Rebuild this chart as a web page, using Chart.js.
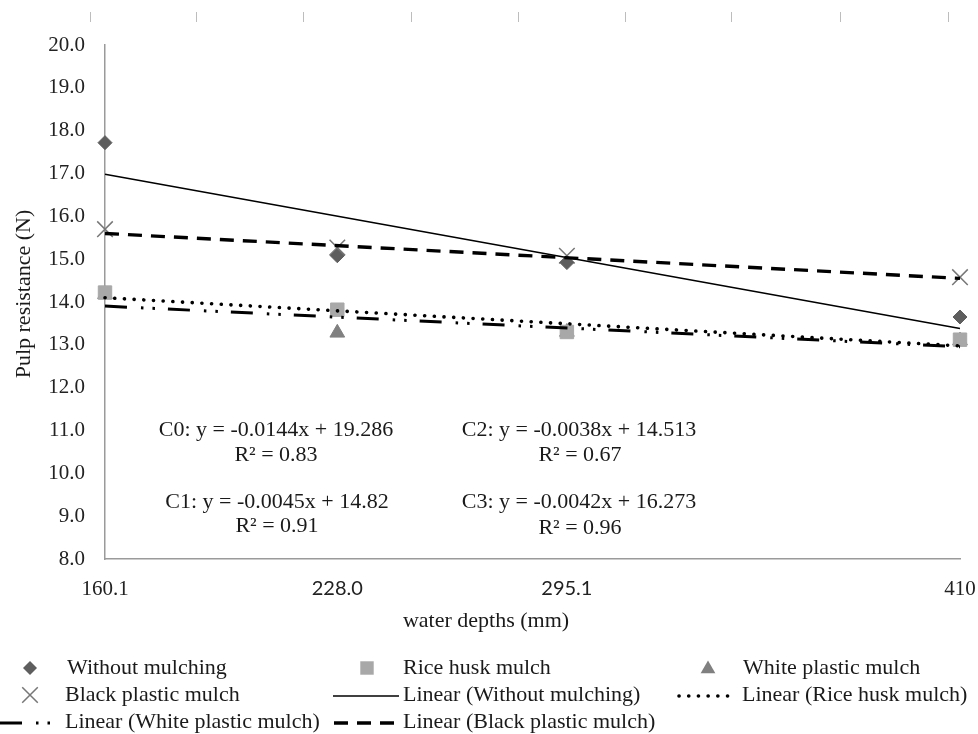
<!DOCTYPE html>
<html><head><meta charset="utf-8">
<script src="https://cdn.jsdelivr.net/npm/chart.js@4.4.0/dist/chart.umd.min.js"></script>
<style>html,body{margin:0;padding:0;background:#fff;}#wrap{width:978px;height:734px;position:relative;}</style>
</head><body><div id="wrap"><canvas id="c" width="978" height="734"></canvas></div>
<script>
const waterDepths = [160.1, 228.0, 295.1, 410];
const xTickLabels = ['160.1', '228.0', '295.1', '410'];
const withoutMulching = [17.72, 15.08, 14.92, 13.65];
const riceHusk = [14.22, 13.82, 13.3, 13.12];
const whitePlastic = [14.18, 13.28, 13.3, 13.1];
const blackPlastic = [15.7, 15.27, 15.08, 14.58];
const seriesNames = ['Without mulching', 'Rice husk mulch', 'White plastic mulch', 'Black plastic mulch'];
const trendSlopes = [-0.0144, -0.0045, -0.0038, -0.0042];
const trendIntercepts = [19.286, 14.82, 14.513, 16.273];
const equationLabels = ['C0: y = -0.0144x + 19.286', 'C1: y = -0.0045x + 14.82', 'C2: y = -0.0038x + 14.513', 'C3: y = -0.0042x + 16.273'];
const r2Labels = ['R\u00B2 = 0.83', 'R\u00B2 = 0.91', 'R\u00B2 = 0.67', 'R\u00B2 = 0.96'];
const xTitle = 'water depths (mm)';
const yTitle = 'Pulp resistance (N)';
const yMin = 8, yMax = 20, yStep = 1;

const SERIF = "'Liberation Serif', 'Times New Roman', serif";
const SANS = "Lato, 'Open Sans', sans-serif";
const TXT = '#1a1a1a';

const markerStyles = [
  {pointStyle: 'rectRot', radius: 7, bg: '#5e5e5e', bc: '#5e5e5e', bw: 1},
  {pointStyle: 'rect', radius: 9.5, bg: '#a8a8a8', bc: '#a8a8a8', bw: 1},
  {pointStyle: 'triangle', radius: 8.5, bg: '#808080', bc: '#808080', bw: 1},
  {pointStyle: 'crossRot', radius: 11, bg: '#777777', bc: '#777777', bw: 1.5}
];
const trendStyles = [
  {dash: [], width: 1.5, cap: 'butt'},
  {dash: [0.1, 9.6], width: 3.6, cap: 'round'},
  {dash: [22, 14, 2.5, 9, 2.5, 13], width: 3, cap: 'butt'},
  {dash: [14, 9], width: 3.4, cap: 'butt'}
];
const seriesValues = [withoutMulching, riceHusk, whitePlastic, blackPlastic];

const datasets = [];
seriesValues.forEach((vals, i) => {
  const m = markerStyles[i];
  datasets.push({
    label: seriesNames[i],
    data: waterDepths.map((x, j) => ({x: x, y: vals[j]})),
    showLine: false,
    clip: false,
    pointStyle: m.pointStyle,
    pointRadius: m.radius,
    pointHoverRadius: m.radius,
    pointBackgroundColor: m.bg,
    pointBorderColor: m.bc,
    pointBorderWidth: m.bw,
    order: 5
  });
});
seriesValues.forEach((vals, i) => {
  const t = trendStyles[i];
  const x0 = waterDepths[0], x1 = waterDepths[waterDepths.length - 1];
  datasets.push({
    label: 'Linear (' + seriesNames[i] + ')',
    data: [{x: x0, y: trendSlopes[i] * x0 + trendIntercepts[i]}, {x: x1, y: trendSlopes[i] * x1 + trendIntercepts[i]}],
    showLine: true,
    clip: false,
    borderColor: '#000',
    borderWidth: t.width,
    borderDash: t.dash,
    borderCapStyle: t.cap,
    pointRadius: 0,
    pointHoverRadius: 0,
    fill: false,
    order: 1
  });
});

function textAt(ctx, str, x, y, align, size) {
  ctx.save();
  ctx.font = (size || 22) + 'px ' + SERIF;
  ctx.fillStyle = TXT;
  ctx.textAlign = align || 'left';
  ctx.textBaseline = 'middle';
  ctx.fillText(str, x, y);
  ctx.restore();
}

function drawMarker(ctx, idx, x, y) {
  const m = markerStyles[idx];
  ctx.save();
  ctx.fillStyle = m.bg; ctx.strokeStyle = m.bc; ctx.lineWidth = m.bw;
  ctx.beginPath();
  const r = m.radius;
  if (m.pointStyle === 'rectRot') {
    ctx.moveTo(x, y - r); ctx.lineTo(x + r, y); ctx.lineTo(x, y + r); ctx.lineTo(x - r, y); ctx.closePath(); ctx.fill();
  } else if (m.pointStyle === 'rect') {
    const s = r * Math.SQRT1_2; ctx.rect(x - s, y - s, 2 * s, 2 * s); ctx.fill();
  } else if (m.pointStyle === 'triangle') {
    ctx.moveTo(x, y - r); ctx.lineTo(x + r * 0.866, y + r * 0.5); ctx.lineTo(x - r * 0.866, y + r * 0.5); ctx.closePath(); ctx.fill();
  } else {
    const s = r * Math.SQRT1_2;
    ctx.moveTo(x - s, y - s); ctx.lineTo(x + s, y + s); ctx.moveTo(x + s, y - s); ctx.lineTo(x - s, y + s); ctx.stroke();
  }
  ctx.restore();
}

function drawLineSample(ctx, idx, x0, x1, y) {
  const t = trendStyles[idx];
  ctx.save();
  ctx.strokeStyle = '#000'; ctx.lineWidth = t.width; ctx.lineCap = t.cap;
  ctx.setLineDash(t.dash);
  ctx.beginPath(); ctx.moveTo(x0, y); ctx.lineTo(x1, y); ctx.stroke();
  ctx.restore();
}

const decorPlugin = {
  id: 'decor',
  afterDraw(chart) {
    const ctx = chart.ctx;
    ctx.save();
    ctx.strokeStyle = '#bdbdbd'; ctx.lineWidth = 1;
    [90, 196, 303, 411, 518, 625, 731, 840, 948].forEach(x => {
      ctx.beginPath(); ctx.moveTo(x + 0.5, 12); ctx.lineTo(x + 0.5, 22); ctx.stroke();
    });
    ctx.restore();
    textAt(ctx, equationLabels[0], 276, 430, 'center');
    textAt(ctx, r2Labels[0], 276, 455, 'center');
    textAt(ctx, equationLabels[1], 277, 502, 'center');
    textAt(ctx, r2Labels[1], 277, 526, 'center');
    textAt(ctx, equationLabels[2], 579, 430, 'center');
    textAt(ctx, r2Labels[2], 580, 455, 'center');
    textAt(ctx, equationLabels[3], 579, 502, 'center');
    textAt(ctx, r2Labels[3], 580, 528, 'center');
    textAt(ctx, xTitle, 486, 621, 'center');
    ctx.save();
    ctx.translate(24, 294); ctx.rotate(-Math.PI / 2);
    textAt(ctx, yTitle, 0, 0, 'center');
    ctx.restore();
    const r1 = 668, r2 = 695, r3 = 722;
    drawMarker(ctx, 0, 30, r1); textAt(ctx, seriesNames[0], 67, r1);
    drawMarker(ctx, 1, 367, r1); textAt(ctx, seriesNames[1], 403, r1);
    drawMarker(ctx, 2, 708, r1 + 1); textAt(ctx, seriesNames[2], 743, r1);
    drawMarker(ctx, 3, 30, r2); textAt(ctx, seriesNames[3], 65, r2);
    drawLineSample(ctx, 0, 333, 399, r2 + 1); textAt(ctx, 'Linear (' + seriesNames[0] + ')', 403, r2);
    drawLineSample(ctx, 1, 679, 730, r2 + 1); textAt(ctx, 'Linear (' + seriesNames[1] + ')', 742, r2);
    drawLineSample(ctx, 2, 0, 56, r3 + 1); textAt(ctx, 'Linear (' + seriesNames[2] + ')', 65, r3);
    drawLineSample(ctx, 3, 334, 400, r3 + 1); textAt(ctx, 'Linear (' + seriesNames[3] + ')', 403, r3);
  }
};

function isSansTick(c) {
  const v = c && c.tick ? c.tick.value : null;
  return v === waterDepths[1] || v === waterDepths[2];
}

new Chart(document.getElementById('c'), {
  type: 'scatter',
  data: {datasets: datasets},
  plugins: [decorPlugin],
  options: {
    responsive: false,
    animation: false,
    events: [],
    layout: {padding: {top: 45, right: 18, left: 0, bottom: 135}},
    plugins: {legend: {display: false}, tooltip: {enabled: false}, title: {display: false}},
    scales: {
      x: {
        type: 'linear',
        min: waterDepths[0],
        max: waterDepths[waterDepths.length - 1],
        afterBuildTicks: s => { s.ticks = waterDepths.map(v => ({value: v})); },
        afterFit: s => { s.height = 40; s.paddingRight = 0; s.paddingLeft = 0; },
        grid: {display: false, drawTicks: false, tickLength: 0},
        border: {display: true, color: '#9a9a9a', width: 1.5},
        ticks: {
          autoSkip: false,
          maxRotation: 0,
          padding: 18,
          color: '#222',
          font: c => isSansTick(c) ? {family: SANS, size: 20} : {family: SERIF, size: 21},
          callback: (v, i) => xTickLabels[i]
        }
      },
      y: {
        min: yMin, max: yMax,
        afterFit: s => { s.width = 105; s.paddingTop = 0; s.paddingBottom = 0; },
        grid: {display: false, drawTicks: false, tickLength: 0},
        border: {display: true, color: '#9a9a9a', width: 1.5},
        ticks: {
          stepSize: yStep,
          padding: 20,
          color: '#222',
          font: {family: SERIF, size: 21},
          callback: v => Number(v).toFixed(1)
        }
      }
    }
  }
});
</script></body></html>
